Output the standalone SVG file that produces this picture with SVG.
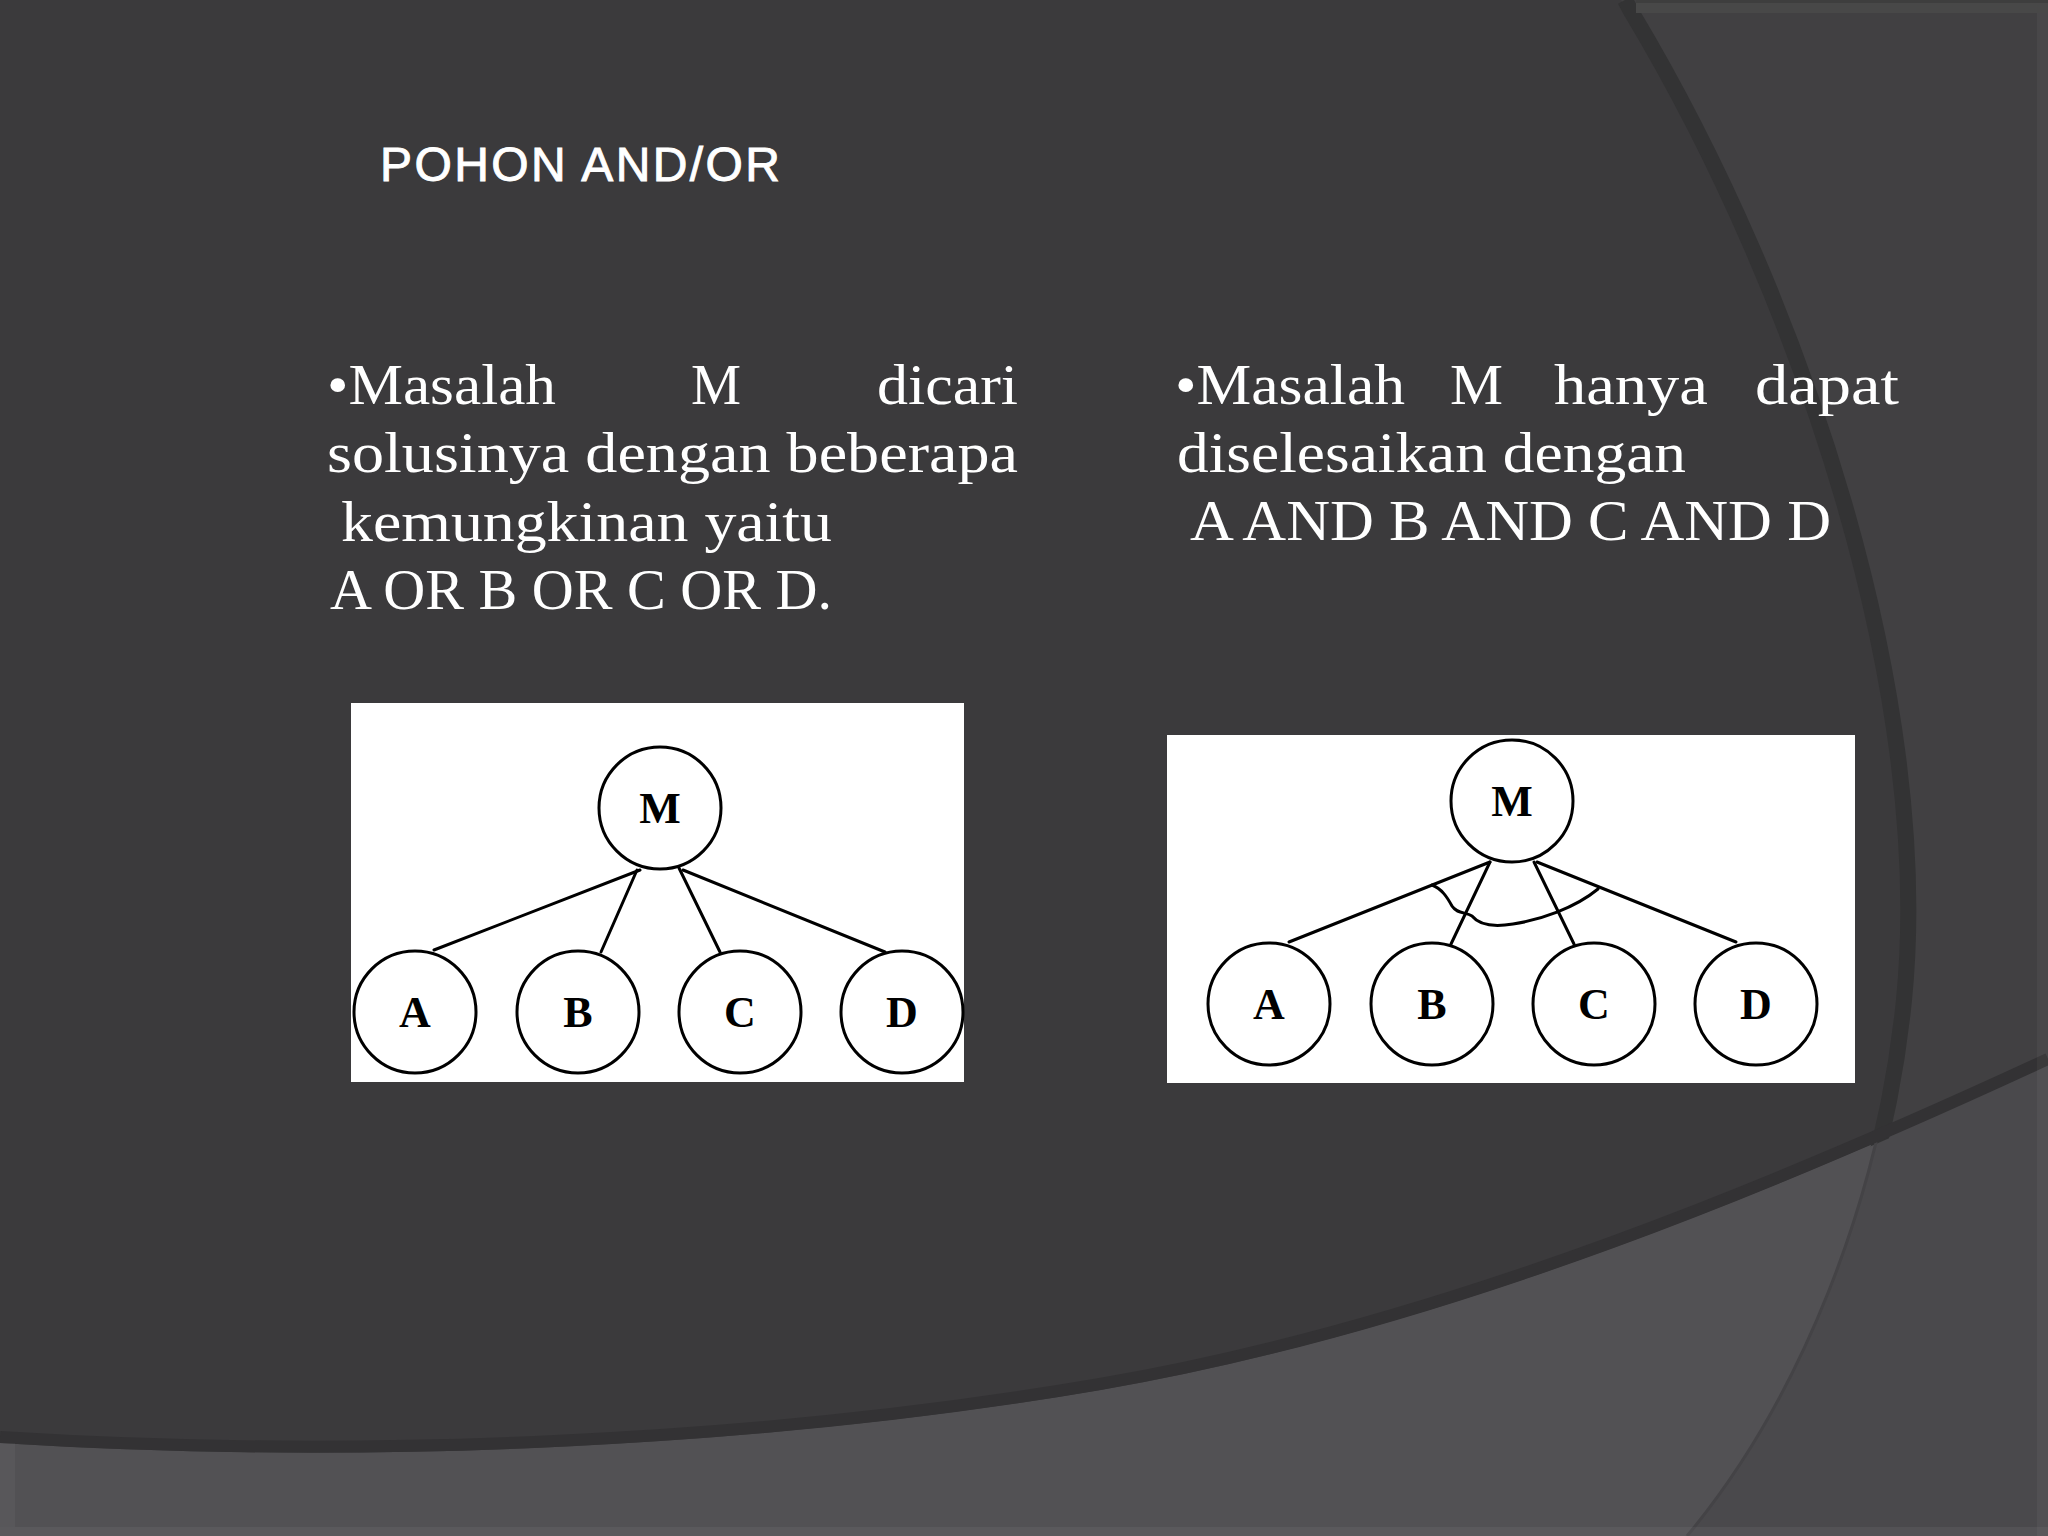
<svg xmlns="http://www.w3.org/2000/svg" width="2048" height="1536" viewBox="0 0 2048 1536">
<style>
.body{font-family:"Liberation Serif","Times New Roman",serif;font-size:58px;fill:#ffffff}
.title{font-family:"Liberation Sans",Arial,sans-serif;font-size:48px;fill:#ffffff;stroke:#ffffff;stroke-width:0.9}
.node circle{fill:#ffffff;stroke:#000000;stroke-width:3}
.node text{font-family:"Liberation Serif","Times New Roman",serif;font-weight:bold;font-size:44px;fill:#000000;text-anchor:middle}
.edge{stroke:#000000;stroke-width:3;fill:none;stroke-linecap:round}
</style>
<defs>
<clipPath id="bottomClip"><path d="M0,1443 C350,1465 750,1450 1100,1390 C1450,1330 1800,1180 2048,1065 L2048,1536 L0,1536 Z"/></clipPath>
<clipPath id="topClip"><path d="M0,0 L2048,0 L2048,1065 C1800,1180 1450,1330 1100,1390 C750,1450 350,1465 0,1443 Z"/></clipPath>
</defs>
<g id="background">
<rect x="0" y="0" width="2048" height="1536" fill="#3b3a3c"/>
<path d="M1621,0 L1628,13 C1800,300 1930,700 1900,1000 C1880,1200 1800,1400 1687,1536 L2048,1536 L2048,0 Z" fill="#414042"/>
<path d="M0,1443 C350,1465 750,1450 1100,1390 C1450,1330 1800,1180 2048,1065 L2048,1536 L0,1536 Z" fill="#525154"/>
<path d="M1628,13 C1800,300 1930,700 1900,1000 C1880,1200 1800,1400 1687,1536 L2048,1536 L2048,0 Z" fill="#4a494c" clip-path="url(#bottomClip)"/>
<path d="M1621,0 L1628,13 C1800,300 1930,700 1900,1000 C1880,1200 1800,1400 1687,1536" fill="none" stroke="#333334" stroke-width="16" clip-path="url(#topClip)" transform="translate(4,0)"/>
<path d="M1628,13 C1800,300 1930,700 1900,1000 C1880,1200 1800,1400 1687,1536" fill="none" stroke="#444346" stroke-width="3" clip-path="url(#bottomClip)"/>
<path d="M0,1437 C350,1459 750,1444 1100,1384 C1450,1324 1800,1174 2048,1059" fill="none" stroke="#333234" stroke-width="12"/>
<rect x="1636" y="0" width="412" height="13" fill="#484848"/>
<rect x="1636" y="0" width="412" height="3" fill="#3e3e3e"/>
<rect x="2037" y="13" width="11" height="1523" fill="#ffffff" fill-opacity="0.04"/>
<rect x="0" y="1527" width="2048" height="9" fill="#ffffff" fill-opacity="0.05"/>
<rect x="0" y="1443" width="15" height="84" fill="#ffffff" fill-opacity="0.04"/>
</g>
<text class="title" x="380" y="181" textLength="400" lengthAdjust="spacing">POHON AND/OR</text>
<g id="text-left">
<text class="body" x="327" y="404" textLength="229" lengthAdjust="spacingAndGlyphs">•Masalah</text>
<text class="body" x="691" y="404" textLength="50" lengthAdjust="spacingAndGlyphs">M</text>
<text class="body" x="877" y="404" textLength="141" lengthAdjust="spacingAndGlyphs">dicari</text>
<text class="body" x="327" y="472" textLength="691" lengthAdjust="spacingAndGlyphs">solusinya dengan beberapa</text>
<text class="body" x="341" y="541" textLength="491" lengthAdjust="spacingAndGlyphs">kemungkinan yaitu</text>
<text class="body" x="330" y="609" textLength="502" lengthAdjust="spacingAndGlyphs">A OR B OR C OR D.</text>
</g>
<g id="text-right">
<text class="body" x="1175" y="404" textLength="230" lengthAdjust="spacingAndGlyphs">•Masalah</text>
<text class="body" x="1450" y="404" textLength="53" lengthAdjust="spacingAndGlyphs">M</text>
<text class="body" x="1554" y="404" textLength="154" lengthAdjust="spacingAndGlyphs">hanya</text>
<text class="body" x="1755" y="404" textLength="144" lengthAdjust="spacingAndGlyphs">dapat</text>
<text class="body" x="1177" y="472" textLength="509" lengthAdjust="spacingAndGlyphs">diselesaikan dengan</text>
<text class="body" x="1190" y="540" textLength="641" lengthAdjust="spacingAndGlyphs">A AND B AND C AND D</text>
</g>
<rect id="panel-or" x="351" y="703" width="613" height="379" fill="#ffffff"/>
<rect id="panel-and" x="1167" y="735" width="688" height="348" fill="#ffffff"/>
<g id="connectors">
<line class="edge" x1="640" y1="870" x2="434" y2="950"/>
<line class="edge" x1="637" y1="870" x2="601" y2="952"/>
<line class="edge" x1="679" y1="868" x2="720" y2="952"/>
<line class="edge" x1="683" y1="870" x2="885" y2="952"/>
<line class="edge" x1="1490" y1="862" x2="1289" y2="942"/>
<line class="edge" x1="1490" y1="862" x2="1451" y2="944"/>
<line class="edge" x1="1534" y1="862" x2="1574" y2="944"/>
<line class="edge" x1="1537" y1="862" x2="1736" y2="942"/>
<path class="edge" d="M1432,885 C1442,889 1447,897 1452,906 C1457,914 1466,912 1472,916 C1480,926 1495,927 1513,924 C1540,920 1575,908 1598,889"/>
</g>
<g id="or-M" class="node"><circle cx="660" cy="808" r="61"/><text x="660" y="823">M</text></g>
<g id="or-A" class="node"><circle cx="415" cy="1012" r="61"/><text x="415" y="1027">A</text></g>
<g id="or-B" class="node"><circle cx="578" cy="1012" r="61"/><text x="578" y="1027">B</text></g>
<g id="or-C" class="node"><circle cx="740" cy="1012" r="61"/><text x="740" y="1027">C</text></g>
<g id="or-D" class="node"><circle cx="902" cy="1012" r="61"/><text x="902" y="1027">D</text></g>
<g id="and-M" class="node"><circle cx="1512" cy="801" r="61"/><text x="1512" y="816">M</text></g>
<g id="and-A" class="node"><circle cx="1269" cy="1004" r="61"/><text x="1269" y="1019">A</text></g>
<g id="and-B" class="node"><circle cx="1432" cy="1004" r="61"/><text x="1432" y="1019">B</text></g>
<g id="and-C" class="node"><circle cx="1594" cy="1004" r="61"/><text x="1594" y="1019">C</text></g>
<g id="and-D" class="node"><circle cx="1756" cy="1004" r="61"/><text x="1756" y="1019">D</text></g>
</svg>
